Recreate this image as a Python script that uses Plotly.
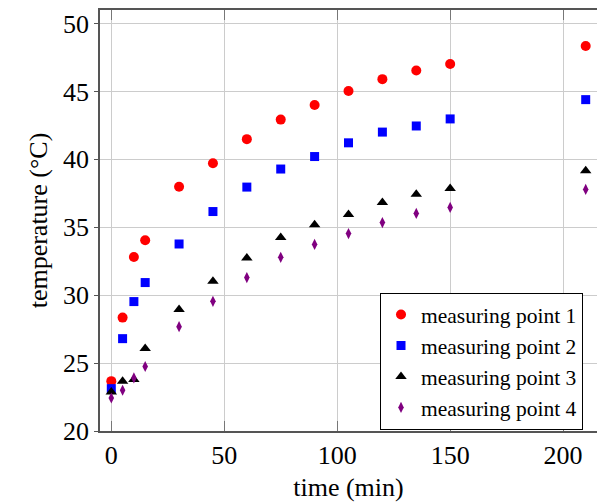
import plotly.graph_objects as go

time_min = [0, 5, 10, 15, 30, 45, 60, 75, 90, 105, 120, 135, 150, 210]
mp1 = [23.67, 28.35, 32.81, 34.04, 37.98, 39.71, 41.49, 42.93, 44.0, 45.04, 45.91, 46.55, 47.02, 48.35]
mp2 = [23.12, 26.8, 29.53, 30.93, 33.77, 36.16, 37.96, 39.29, 40.21, 41.22, 42.01, 42.46, 42.98, 44.40]
mp3 = [22.88, 23.67, 23.8, 26.08, 28.94, 31.03, 32.74, 34.24, 35.18, 35.94, 36.83, 37.44, 37.86, 39.17]
mp4 = [22.43, 23.0, 23.91, 24.75, 27.68, 29.55, 31.30, 32.79, 33.74, 34.54, 35.35, 36.02, 36.46, 37.79]

series_names = ["measuring point 1", "measuring point 2", "measuring point 3", "measuring point 4"]
x_ticks = [0, 50, 100, 150, 200]
y_ticks = [20, 25, 30, 35, 40, 45, 50]

FONT = "Liberation Serif"

styles = [
    dict(symbol="circle", color="#ff0000", size=10),
    dict(symbol="square", color="#0000ff", size=9),
    dict(symbol="triangle-up", color="#000000", size=10),
    dict(symbol="diamond-tall", color="#800080", size=8),
]

fig = go.Figure()
for name, vals, st in zip(series_names, [mp1, mp2, mp3, mp4], styles):
    fig.add_trace(go.Scatter(
        x=time_min, y=vals, mode="markers", name=name,
        marker=dict(symbol=st["symbol"], color=st["color"], size=st["size"], line=dict(width=0)),
    ))

fig.update_layout(
    width=597, height=502,
    margin=dict(l=100, r=0, t=10, b=71, autoexpand=False),
    paper_bgcolor="white", plot_bgcolor="white",
    font=dict(family=FONT, color="black"),
    showlegend=True,
    legend=dict(
        x=0.563, xanchor="left", y=0.328, yanchor="top",
        bgcolor="white", bordercolor="black", borderwidth=1.2,
        font=dict(family=FONT, size=21.5, color="black"),
        tracegroupgap=0,
    ),
)
fig.update_xaxes(
    range=[-5, 215], tickvals=x_ticks, ticktext=[str(v) for v in x_ticks],
    automargin=False,
    showgrid=True, gridcolor="#cccccc", gridwidth=1,
    showline=True, linecolor="#555555", linewidth=1.5, mirror="ticks",
    ticks="inside", ticklen=10, tickcolor="#777777",
    tickfont=dict(family=FONT, size=26),
    zeroline=False,
    title=dict(text="time (min)", font=dict(family=FONT, size=26), standoff=10),
)
fig.update_yaxes(
    range=[20, 51], tickvals=y_ticks, ticktext=[str(v) for v in y_ticks],
    automargin=False,
    showgrid=True, gridcolor="#cccccc", gridwidth=1,
    showline=True, linecolor="#555555", linewidth=1.5, mirror="ticks",
    ticks="outside", ticklen=4, tickcolor="#555555",
    tickfont=dict(family=FONT, size=26),
    zeroline=False,
    title=dict(text="temperature (°C)", font=dict(family=FONT, size=26), standoff=8),
)

fig.write_html(
    "out.html",
    config={"displayModeBar": False},
    post_script="document.body.style.margin='0';document.body.style.overflow='hidden';",
)
